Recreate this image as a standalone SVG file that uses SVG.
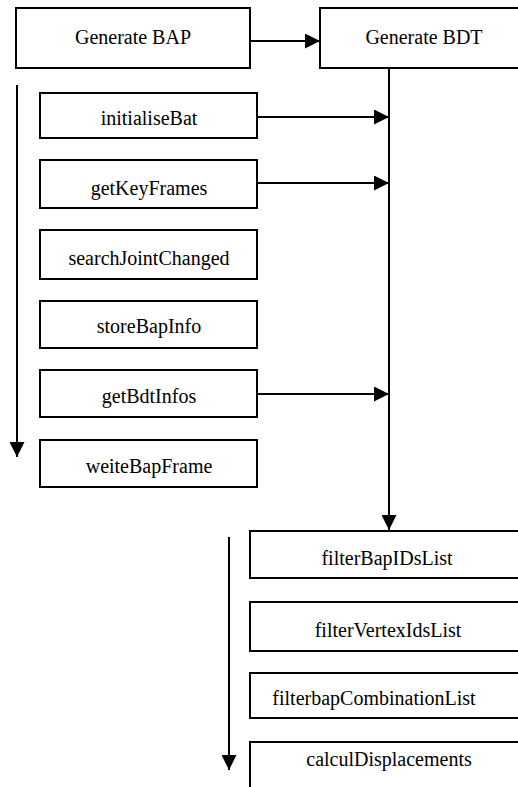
<svg xmlns="http://www.w3.org/2000/svg" width="518" height="787" viewBox="0 0 518 787">
<style>
.box{fill:#fff;stroke:#000;stroke-width:2}
.lbl{font-family:'Liberation Serif','DejaVu Serif',serif;font-size:20px;fill:#000;text-anchor:middle}
.con{stroke:#000;stroke-width:2;fill:none}
</style>
<defs>
<marker id="ah" viewBox="0 0 15 15" refX="15" refY="7.5" markerWidth="15" markerHeight="15" markerUnits="userSpaceOnUse" orient="auto">
<path d="M0,0 L15,7.5 L0,15 Z" fill="#000"/>
</marker>
</defs>
<rect width="518" height="787" fill="#fff"/>
<g id="connectors">
<line class="con" x1="250" y1="41" x2="320" y2="41" marker-end="url(#ah)"/>
<line class="con" x1="389" y1="68" x2="389" y2="530" marker-end="url(#ah)"/>
<line class="con" x1="257" y1="117" x2="389" y2="117" marker-end="url(#ah)"/>
<line class="con" x1="257" y1="183" x2="389" y2="183" marker-end="url(#ah)"/>
<line class="con" x1="257" y1="394" x2="389" y2="394" marker-end="url(#ah)"/>
<line class="con" x1="17" y1="85" x2="17" y2="457" marker-end="url(#ah)"/>
<line class="con" x1="229" y1="537" x2="229" y2="770" marker-end="url(#ah)"/>
</g>
<g id="generateBAP"><rect class="box" x="16" y="8" width="234" height="60"/><text class="lbl" font-family="Liberation Serif, serif" x="133" y="44">Generate BAP</text></g>
<g id="generateBDT"><rect class="box" x="320" y="8" width="210" height="60"/><text class="lbl" x="424" y="44">Generate BDT</text></g>
<g id="initialiseBat"><rect class="box" x="40" y="93" width="217" height="45"/><text class="lbl" x="149" y="125">initialiseBat</text></g>
<g id="getKeyFrames"><rect class="box" x="40" y="160" width="217" height="48"/><text class="lbl" x="149" y="195">getKeyFrames</text></g>
<g id="searchJointChanged"><rect class="box" x="40" y="230" width="217" height="49"/><text class="lbl" x="149" y="265">searchJointChanged</text></g>
<g id="storeBapInfo"><rect class="box" x="40" y="301" width="217" height="47"/><text class="lbl" x="149" y="333">storeBapInfo</text></g>
<g id="getBdtInfos"><rect class="box" x="40" y="370" width="217" height="47"/><text class="lbl" x="149" y="403">getBdtInfos</text></g>
<g id="weiteBapFrame"><rect class="box" x="40" y="440" width="217" height="47"/><text class="lbl" x="149" y="473">weiteBapFrame</text></g>
<g id="filterBapIDsList"><rect class="box" x="250" y="531" width="280" height="47"/><text class="lbl" x="387" y="565">filterBapIDsList</text></g>
<g id="filterVertexIdsList"><rect class="box" x="250" y="602" width="280" height="49"/><text class="lbl" x="388" y="637">filterVertexIdsList</text></g>
<g id="filterbapCombinationList"><rect class="box" x="250" y="673" width="280" height="45"/><text class="lbl" x="374" y="705">filterbapCombinationList</text></g>
<g id="calculDisplacements"><rect class="box" x="250" y="742" width="280" height="60"/><text class="lbl" x="389" y="766">calculDisplacements</text></g>
</svg>
